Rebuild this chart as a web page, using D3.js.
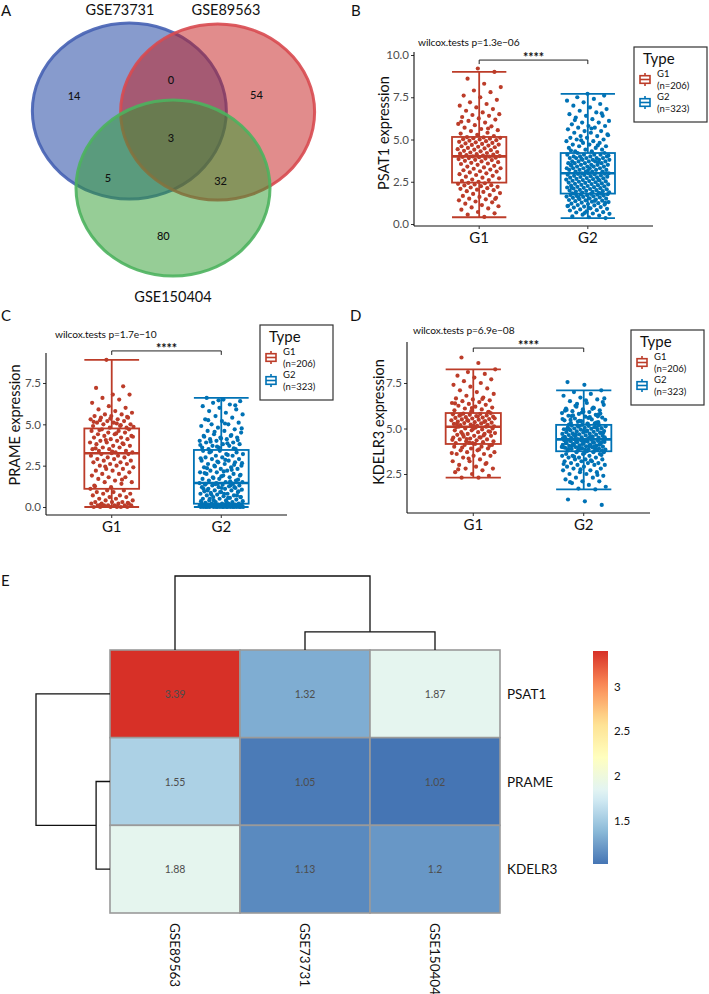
<!DOCTYPE html>
<html><head><meta charset="utf-8">
<script src="https://cdn.jsdelivr.net/npm/d3@7"></script>
<style>
body{margin:0;background:#fff}
svg{display:block}
text{font-family:Lato,"Open Sans",sans-serif}
</style>
</head><body>
<svg id="fig" width="709" height="994"></svg>
<script>
// ================= DATA =================
// Venn (A)
const vennSets = ["GSE73731", "GSE89563", "GSE150404"];
const vennRegions = ["A", "B", "C", "AB", "AC", "BC", "ABC"];
const vennCounts = [14, 54, 80, 0, 5, 32, 3];

// Boxplots (B, C, D)
const groups = ["G1", "G2"];
const groupN = [206, 323];
const pValues = ["1.3e\u221206", "1.7e\u221210", "6.9e\u221208"];
const genes = ["PSAT1", "PRAME", "KDELR3"];
// box stats: [lower whisker, Q1, median, Q3, upper whisker]
const psat1Stats = [[0.4, 2.45, 4.0, 5.15, 9.0], [0.35, 1.8, 3.0, 4.2, 7.7]];
const prameStats = [[0.0, 1.1, 3.25, 4.75, 8.9], [0.0, 0.2, 1.45, 3.45, 6.6]];
const kdelr3Stats = [[2.3, 4.15, 5.1, 5.85, 8.25], [1.65, 3.75, 4.4, 5.2, 7.1]];
const psat1Ticks = [0, 2.5, 5, 7.5, 10];
const prameTicks = [0, 2.5, 5, 7.5];
const kdelr3Ticks = [2.5, 5, 7.5];

// jittered sample values
const psat1G1 = [0.42,0.55,0.63,0.71,0.85,0.92,0.98,1.05,1.12,1.2,1.28,1.33,1.4,1.46,1.5,1.55,1.6,1.66,1.71,1.78,1.83,1.9,1.94,2.0,2.03,2.08,2.12,2.16,2.2,2.24,2.28,2.3,2.34,2.38,2.41,2.43,1.48,
2.5,2.55,2.6,2.63,2.7,2.74,2.8,2.85,2.9,2.95,3.0,3.05,3.1,3.12,3.18,3.22,3.27,3.3,3.35,3.4,3.44,3.5,3.55,3.58,3.62,3.66,3.7,3.74,3.78,3.8,3.84,3.87,3.9,3.92,3.95,3.97,3.99,4.0,
4.02,4.05,4.08,4.1,4.13,4.16,4.2,4.23,4.26,4.3,4.33,4.37,4.4,4.43,4.47,4.5,4.54,4.57,4.6,4.64,4.68,4.7,4.74,4.77,4.8,4.83,4.86,4.9,4.93,4.96,5.0,5.02,5.05,5.08,5.1,5.12,5.14,
5.2,5.28,5.35,5.4,5.5,5.55,5.62,5.7,5.78,5.85,5.92,6.0,6.1,6.18,6.25,6.33,6.4,6.45,6.5,6.6,6.7,6.8,6.9,7.0,7.1,7.2,7.35,7.5,7.6,7.8,7.9,8.1,8.3,8.6,9.0,9.2,6.05,5.65];
const psat1G2 = [0.35,0.4,0.45,0.5,0.55,0.6,0.62,0.68,0.7,0.75,0.8,0.82,0.86,0.9,0.93,0.97,1.0,1.03,1.06,1.1,1.12,1.15,1.18,1.2,1.23,1.26,1.3,1.32,1.35,1.38,1.4,1.42,1.45,1.47,1.5,1.52,1.55,1.57,1.6,1.62,1.64,1.66,1.68,1.7,1.71,1.73,1.75,1.76,1.78,1.79,1.8,0.65,1.08,1.37,1.58,1.25,0.95,
1.82,1.84,1.86,1.88,1.9,1.92,1.94,1.96,1.98,2.0,2.02,2.05,2.07,2.1,2.12,2.14,2.16,2.18,2.2,2.23,2.25,2.27,2.3,2.32,2.34,2.36,2.38,2.4,2.43,2.45,2.47,2.5,2.52,2.54,2.56,2.58,2.6,2.63,2.65,2.67,2.7,2.72,2.74,2.76,2.78,2.8,2.83,2.85,2.87,2.9,2.92,2.94,2.96,2.98,3.0,2.15,2.61,
3.0,3.0,3.1,3.1,3.1,3.1,3.2,3.2,3.2,3.2,3.3,3.3,3.3,3.3,3.3,3.4,3.4,3.4,3.4,3.5,3.5,3.5,3.5,3.5,3.6,3.6,3.6,3.6,3.7,3.7,3.7,3.7,3.7,3.8,3.8,3.8,3.8,3.9,3.9,3.9,3.9,3.9,4.0,4.0,4.0,4.0,4.1,4.1,4.1,4.1,4.2,4.2,3.15,3.45,3.65,3.85,4.05,
4.3,4.3,4.4,4.4,4.5,4.5,4.6,4.6,4.7,4.7,4.8,4.8,4.9,4.9,5.0,5.0,5.1,5.1,5.2,5.2,5.3,5.4,5.4,5.5,5.5,5.6,5.7,5.7,5.8,5.8,5.9,6.0,6.0,6.1,6.2,6.3,6.4,6.4,6.5,6.6,6.7,6.8,6.9,7.0,7.1,7.2,7.3,7.4,7.5,7.6,7.7,4.35,4.65,4.95,5.25,5.65,6.15,6.55];
const prameG1 = [0.0,0.0,0.0,0.0,0.0,0.0,0.1,0.1,0.1,0.1,0.1,0.1,0.2,0.2,0.2,0.2,0.3,0.3,0.3,0.4,0.4,0.5,0.5,0.6,0.6,0.7,0.7,0.8,0.8,0.9,0.9,1.0,1.0,1.1,0.05,0.15,0.25,
1.2,1.3,1.4,1.5,1.5,1.6,1.7,1.8,1.8,1.9,2.0,2.0,2.1,2.2,2.2,2.3,2.3,2.4,2.5,2.5,2.6,2.6,2.7,2.7,2.8,2.8,2.9,2.9,3.0,3.0,3.1,3.1,3.2,3.2,3.25,1.25,1.65,2.45,
3.3,3.3,3.4,3.4,3.5,3.5,3.6,3.6,3.7,3.7,3.8,3.8,3.9,3.9,4.0,4.0,4.1,4.1,4.2,4.2,4.3,4.3,4.4,4.4,4.5,4.5,4.6,4.6,4.7,4.7,3.35,3.55,3.85,4.05,4.25,4.45,4.65,
4.8,4.8,4.9,4.9,5.0,5.0,5.1,5.1,5.2,5.2,5.3,5.3,5.4,5.4,5.5,5.5,5.6,5.6,5.7,5.8,5.9,6.0,6.1,6.3,6.5,6.6,6.8,6.8,7.2,7.3,8.9,4.85,5.05,5.25,5.45,5.35,5.15,4.95];
const prameG2 = [0.0,0.0,0.0,0.0,0.0,0.0,0.0,0.0,0.0,0.0,0.0,0.0,0.0,0.0,0.0,0.0,0.0,0.0,0.0,0.0,0.05,0.05,0.05,0.05,0.05,0.05,0.05,0.05,0.05,0.05,0.1,0.1,0.1,0.1,0.1,0.1,0.1,0.1,0.1,0.1,0.1,0.1,0.1,0.1,0.1,0.15,0.15,0.15,0.15,0.15,0.15,0.15,0.2,0.2,0.2,0.2,0.2,
0.25,0.3,0.3,0.35,0.4,0.4,0.45,0.5,0.5,0.55,0.6,0.6,0.65,0.7,0.7,0.75,0.8,0.8,0.85,0.9,0.9,0.95,1.0,1.0,1.05,1.1,1.1,1.15,1.2,1.2,1.25,1.3,1.3,1.35,1.4,1.4,1.45,1.45,0.3,0.5,0.7,0.9,1.1,1.3,0.4,0.6,0.8,1.0,1.2,1.4,0.35,0.55,0.75,0.95,1.15,1.35,1.42,1.38,
1.5,1.5,1.6,1.6,1.7,1.7,1.8,1.8,1.9,1.9,2.0,2.0,2.1,2.1,2.2,2.2,2.3,2.3,2.4,2.4,2.5,2.5,2.6,2.6,2.7,2.7,2.8,2.8,2.9,2.9,3.0,3.0,3.1,3.1,3.2,3.2,3.3,3.3,3.4,3.4,1.55,1.75,1.95,2.15,2.35,2.55,2.75,2.95,3.15,3.35,1.65,1.85,2.05,2.25,2.45,2.65,2.85,
3.5,3.5,3.6,3.6,3.7,3.7,3.8,3.8,3.9,3.9,4.0,4.0,4.1,4.1,4.2,4.2,4.3,4.3,4.4,4.5,4.6,4.6,4.7,4.8,4.9,5.0,5.0,5.1,5.2,5.3,5.4,5.5,5.6,5.7,5.8,5.9,6.0,6.1,6.2,6.3,6.4,6.5,6.6,3.55,3.65,3.75,3.85,3.95,4.05,4.15,4.25,4.35,4.55,4.75,5.05,5.25,6.15,6.45];
const kdelr3G1 = [2.3,2.3,2.4,2.5,2.6,2.7,2.8,2.8,2.9,3.0,3.1,3.2,3.2,3.3,3.4,3.5,3.5,3.6,3.6,3.7,3.7,3.8,3.8,3.9,3.9,4.0,4.0,4.1,4.1,4.15,2.75,3.05,3.35,3.65,3.85,3.95,4.05,
4.2,4.2,4.25,4.3,4.3,4.35,4.4,4.4,4.45,4.5,4.5,4.55,4.6,4.6,4.65,4.7,4.7,4.75,4.8,4.8,4.85,4.9,4.9,4.95,5.0,5.0,5.05,5.1,5.1,4.22,4.38,4.52,4.68,4.82,4.98,5.08,4.62,4.42,
5.12,5.15,5.18,5.2,5.22,5.25,5.28,5.3,5.32,5.35,5.38,5.4,5.42,5.45,5.48,5.5,5.52,5.55,5.58,5.6,5.62,5.65,5.68,5.7,5.72,5.75,5.78,5.8,5.82,5.85,5.14,5.26,5.36,5.46,5.56,5.66,5.76,
5.9,5.95,6.0,6.05,6.1,6.15,6.2,6.25,6.3,6.35,6.4,6.45,6.5,6.55,6.6,6.65,6.7,6.8,6.9,7.0,7.1,7.2,7.3,7.4,7.5,7.6,7.7,7.8,7.9,8.0,8.1,8.25,8.6,8.9,5.92,6.12,6.38,6.62];
const kdelr3G2 = [0.8,1.0,1.1,1.65,1.7,1.8,1.9,2.0,2.1,2.1,2.2,2.3,2.3,2.4,2.5,2.5,2.6,2.6,2.7,2.7,2.8,2.8,2.9,2.9,3.0,3.0,3.0,3.1,3.1,3.1,3.2,3.2,3.2,3.3,3.3,3.3,3.4,3.4,3.4,3.5,3.5,3.5,3.6,3.6,3.6,3.7,3.7,3.7,3.75,2.05,2.45,2.75,3.05,3.25,3.45,3.55,3.65,
3.78,3.8,3.82,3.84,3.86,3.88,3.9,3.92,3.94,3.96,3.98,4.0,4.02,4.04,4.06,4.08,4.1,4.12,4.14,4.16,4.18,4.2,4.22,4.24,4.26,4.28,4.3,4.32,4.34,4.36,4.38,4.4,3.79,3.83,3.87,3.91,3.95,3.99,4.03,4.07,4.11,4.15,4.19,4.23,4.27,4.31,4.35,4.39,3.81,3.89,3.97,4.05,4.13,4.21,4.29,4.37,4.01,
4.42,4.44,4.46,4.48,4.5,4.52,4.54,4.56,4.58,4.6,4.62,4.64,4.66,4.68,4.7,4.72,4.74,4.76,4.78,4.8,4.82,4.84,4.86,4.88,4.9,4.92,4.94,4.96,4.98,5.0,5.02,5.04,5.06,5.08,5.1,5.12,5.14,5.16,5.18,5.2,4.45,4.55,4.65,4.75,4.85,4.95,5.05,5.15,4.47,4.57,4.67,4.77,4.87,4.97,5.07,5.17,4.51,
5.25,5.3,5.35,5.4,5.45,5.5,5.55,5.6,5.65,5.7,5.75,5.8,5.85,5.9,5.95,6.0,6.05,6.1,6.15,6.2,6.3,6.4,6.5,6.6,6.7,6.8,6.9,7.0,7.1,7.4,7.55,5.28,5.38,5.48,5.58,5.68,5.78,5.88,5.98,6.08,6.25,6.45,6.55,5.22,5.32,5.42,5.52,5.62,5.72,5.82,5.92,6.02,6.12,6.35,6.65,5.27,5.47,5.67];

// Heatmap (E)
const hmCols = ["GSE89563", "GSE73731", "GSE150404"];
const hmRows = ["PSAT1", "PRAME", "KDELR3"];
const hmValues = [[3.39, 1.32, 1.87], [1.55, 1.05, 1.02], [1.88, 1.13, 1.2]];
const colTreeHeights = [0.556, 2.258];   // (GSE73731,GSE150404), then +GSE89563
const rowTreeHeights = [0.384, 2.045];   // (PRAME,KDELR3), then +PSAT1
const hmLegendTicks = [1.5, 2, 2.5, 3];

// ================= STYLE / LAYOUT =================
const groupColors = ["#BC3C29", "#0072B5"];
const svg = d3.select("#fig");

function panelLetter(t, x, y) {
  svg.append("text").attr("x", x).attr("y", y).attr("font-size", 15).attr("fill", "#111").text(t);
}
panelLetter("A", 1, 16); panelLetter("B", 351, 16); panelLetter("C", 1, 321);
panelLetter("D", 350, 321); panelLetter("E", 1, 586);

// ---------- A: Venn ----------
(function () {
  const sx = d3.scaleLinear().domain([-1, 1]).range([76, 270]);
  const sy = d3.scaleLinear().domain([-1, 1]).range([49, 225]);
  const circles = [
    {cx: -0.45, cy: -0.295, fill: "#0f379b", stroke: "#4662b4"},
    {cx: 0.46, cy: -0.284, fill: "#c31919", stroke: "#d84a50"},
    {cx: 0.0, cy: 0.58, fill: "#2d9b2d", stroke: "#4db35e"}
  ];
  const g = svg.append("g");
  circles.forEach(c => {
    g.append("ellipse")
      .attr("cx", sx(c.cx)).attr("cy", sy(c.cy))
      .attr("rx", sx(1) - sx(0)).attr("ry", sy(1) - sy(0))
      .attr("fill", c.fill).attr("fill-opacity", 0.5)
      .attr("stroke", c.stroke).attr("stroke-width", 3).attr("stroke-opacity", 0.9);
  });
  const regionPos = {A: [-1.02, -0.47], B: [0.86, -0.48], C: [-0.1, 1.12], AB: [-0.02, -0.65],
                     AC: [-0.67, 0.455], BC: [0.49, 0.49], ABC: [-0.02, 0.0]};
  vennRegions.forEach((r, i) => {
    g.append("text").attr("x", sx(regionPos[r][0])).attr("y", sy(regionPos[r][1]))
      .attr("text-anchor", "middle").attr("dominant-baseline", "central")
      .attr("font-size", 11).attr("font-weight", 500).attr("fill", "#111").text(vennCounts[i]);
  });
  const setPos = [[120, 15], [226, 15], [173, 302]];
  vennSets.forEach((s, i) => {
    g.append("text").attr("x", setPos[i][0]).attr("y", setPos[i][1]).attr("text-anchor", "middle")
      .attr("font-size", 14.5).attr("fill", "#111").text(s);
  });
})();

// ---------- B, C, D: boxplots ----------
const boxPanels = [
  {gene: genes[0], p: pValues[0], data: [psat1G1, psat1G2], stats: psat1Stats, ticks: psat1Ticks,
   x0: 414, x1: 653, yTop: 52, yBot: 226, yDom: [0, 10], yRng: [224, 55], bracket: 9.7,
   titleX: 418, titleY: 46, ylabX: 383, ylabY: 133, xlabY: 243, legX: 634, legY: 47},
  {gene: genes[1], p: pValues[1], data: [prameG1, prameG2], stats: prameStats, ticks: prameTicks,
   x0: 46, x1: 287, yTop: 353, yBot: 515, yDom: [0, 7.5], yRng: [507, 383], bracket: 9.44,
   titleX: 55, titleY: 338, ylabX: 14, ylabY: 425, xlabY: 532, legX: 260, legY: 325},
  {gene: genes[2], p: pValues[2], data: [kdelr3G1, kdelr3G2], stats: kdelr3Stats, ticks: kdelr3Ticks,
   x0: 407, x1: 650, yTop: 342, yBot: 513, yDom: [2.5, 7.5], yRng: [474, 383], bracket: 9.42,
   titleX: 413, titleY: 334, ylabX: 378, ylabY: 422, xlabY: 530, legX: 631, legY: 330}
];

boxPanels.forEach(P => {
  const g = svg.append("g");
  const x = d3.scaleLinear().domain([0.4, 2.6]).range([P.x0, P.x1]);
  const y = d3.scaleLinear().domain(P.yDom).range(P.yRng);
  const bw = x(1.25) - x(1);   // half box width (0.25 units)

  // boxes
  P.stats.forEach((s, gi) => {
    const cx = x(gi + 1), col = groupColors[gi];
    const bg = g.append("g").attr("stroke", col).attr("fill", "none");
    bg.append("line").attr("x1", cx).attr("x2", cx).attr("y1", y(s[0])).attr("y2", y(s[4])).attr("stroke-width", 1.8);
    [s[0], s[4]].forEach(v => bg.append("line").attr("x1", cx - bw).attr("x2", cx + bw)
      .attr("y1", y(v)).attr("y2", y(v)).attr("stroke-width", 1.8));
    bg.append("rect").attr("x", cx - bw).attr("width", 2 * bw).attr("y", y(s[3]))
      .attr("height", y(s[1]) - y(s[3])).attr("fill", "#fff").attr("stroke-width", 1.8);
    bg.append("line").attr("x1", cx - bw).attr("x2", cx + bw).attr("y1", y(s[2])).attr("y2", y(s[2])).attr("stroke-width", 2.6);
  });
  // jittered points
  P.data.forEach((arr, gi) => {
    g.append("g").selectAll("circle").data(arr).join("circle")
      .attr("cx", (d, i) => x(gi + 1 + ((((i + 1) * 0.6180339887 + gi * 0.29) % 1) - 0.5) * 0.4))
      .attr("cy", d => y(d)).attr("r", 2.1).attr("fill", groupColors[gi]);
  });

  // axes
  const yAxis = d3.axisLeft(y).tickValues(P.ticks).tickFormat(d3.format(".1f")).tickSize(3).tickPadding(2);
  const ya = g.append("g").attr("transform", `translate(${P.x0},0)`).call(yAxis);
  ya.select(".domain").remove();
  ya.selectAll("text").attr("font-size", 11.5).attr("fill", "#4d4d4d").attr("font-family", "Lato,'Open Sans',sans-serif");
  ya.selectAll("line").attr("stroke", "#333");
  g.append("line").attr("x1", P.x0).attr("x2", P.x0).attr("y1", P.yTop).attr("y2", P.yBot).attr("stroke", "#111").attr("stroke-width", 1.1);
  g.append("line").attr("x1", P.x0).attr("x2", P.x1).attr("y1", P.yBot).attr("y2", P.yBot).attr("stroke", "#111").attr("stroke-width", 1.1);
  groups.forEach((gr, gi) => {
    g.append("line").attr("x1", x(gi + 1)).attr("x2", x(gi + 1)).attr("y1", P.yBot).attr("y2", P.yBot + 3).attr("stroke", "#333");
    g.append("text").attr("x", x(gi + 1)).attr("y", P.xlabY).attr("text-anchor", "middle")
      .attr("font-size", 15).attr("fill", "#111").text(gr);
  });
  g.append("text").attr("transform", `translate(${P.ylabX},${P.ylabY}) rotate(-90)`)
    .attr("text-anchor", "middle").attr("dominant-baseline", "central")
    .attr("font-size", 14.5).attr("fill", "#111").text(P.gene + " expression");
  g.append("text").attr("x", P.titleX).attr("y", P.titleY).attr("font-size", 10.2)
    .attr("letter-spacing", -0.1).attr("fill", "#111")
    .text("wilcox.tests p=" + P.p);

  // significance bracket
  const by = y(P.bracket);
  g.append("path").attr("d", `M${x(1)},${by + 4}V${by}H${x(2)}V${by + 4}`)
    .attr("fill", "none").attr("stroke", "#222").attr("stroke-width", 1);
  g.append("text").attr("x", (x(1) + x(2)) / 2).attr("y", by + 2).attr("text-anchor", "middle")
    .attr("font-size", 12.5).attr("font-weight", 700).attr("fill", "#111").text("****");

  // legend
  const L = g.append("g").attr("transform", `translate(${P.legX},${P.legY})`);
  L.append("rect").attr("width", 73).attr("height", 75).attr("fill", "#fff").attr("stroke", "#333").attr("stroke-width", 1.2);
  L.append("text").attr("x", 9).attr("y", 17).attr("font-size", 15).attr("fill", "#111").text("Type");
  groups.forEach((gr, gi) => {
    const cy = 32.5 + gi * 23, col = groupColors[gi], kx = 11;
    const k = L.append("g").attr("stroke", col).attr("fill", "#fff").attr("stroke-width", 1.6);
    k.append("line").attr("x1", kx).attr("x2", kx).attr("y1", cy - 6.5).attr("y2", cy + 6.5);
    k.append("rect").attr("x", kx - 5).attr("y", cy - 3.8).attr("width", 10).attr("height", 7.6);
    k.append("line").attr("x1", kx - 5).attr("x2", kx + 5).attr("y1", cy).attr("y2", cy);
    L.append("text").attr("x", 23).attr("y", cy - 2.5).attr("font-size", 9.5).attr("fill", "#111").text(gr);
    L.append("text").attr("x", 23).attr("y", cy + 9).attr("font-size", 9.5).attr("fill", "#111").text("(n=" + groupN[gi] + ")");
  });
});

// ---------- E: heatmap ----------
(function () {
  const g = svg.append("g");
  const x = d3.scaleBand().domain(hmCols).range([110, 500]);
  const y = d3.scaleBand().domain(hmRows).range([650, 913]);
  const all = hmValues.flat();
  const vmin = d3.min(all), vmax = d3.max(all);
  const pal = ["#4575B4", "#91BFDB", "#E0F3F8", "#FFFFBF", "#FEE090", "#FC8D59", "#D73027"];
  const color = d3.scaleLinear().domain(d3.range(pal.length).map(i => vmin + i * (vmax - vmin) / (pal.length - 1)))
    .range(pal).interpolate(d3.interpolateRgb);

  hmRows.forEach((r, ri) => hmCols.forEach((c, ci) => {
    const v = hmValues[ri][ci];
    g.append("rect").attr("x", x(c)).attr("y", y(r)).attr("width", x.bandwidth()).attr("height", y.bandwidth())
      .attr("fill", color(v)).attr("stroke", "#9a9a9a").attr("stroke-width", 1.6);
    g.append("text").attr("x", x(c) + x.bandwidth() / 2).attr("y", y(r) + y.bandwidth() / 2)
      .attr("text-anchor", "middle").attr("dominant-baseline", "central")
      .attr("font-size", 10.5).attr("fill", "#4d4d4d").text(v);
  }));
  hmRows.forEach(r => g.append("text").attr("x", 507).attr("y", y(r) + y.bandwidth() / 2)
    .attr("dominant-baseline", "central").attr("font-size", 13.5).attr("fill", "#111").text(r));
  hmCols.forEach(c => g.append("text")
    .attr("transform", `translate(${x(c) + x.bandwidth() / 2},923) rotate(90)`)
    .attr("dominant-baseline", "central").attr("font-size", 13.5).attr("fill", "#111").text(c));

  // dendrograms
  const cm = c => x(c) + x.bandwidth() / 2, rm = r => y(r) + y.bandwidth() / 2;
  const hy = d3.scaleLinear().domain([0, colTreeHeights[1]]).range([650, 576]);
  const hx = d3.scaleLinear().domain([0, rowTreeHeights[1]]).range([110, 36]);
  const dl = g.append("g").attr("fill", "none").attr("stroke", "#111").attr("stroke-width", 1.3);
  const c1 = cm(hmCols[1]), c2 = cm(hmCols[2]), c0 = cm(hmCols[0]);
  dl.append("path").attr("d", `M${c1},650V${hy(colTreeHeights[0])}H${c2}V650`);
  dl.append("path").attr("d", `M${c0},650V${hy(colTreeHeights[1])}H${(c1 + c2) / 2}V${hy(colTreeHeights[0])}`);
  const r1 = rm(hmRows[1]), r2 = rm(hmRows[2]), r0 = rm(hmRows[0]);
  dl.append("path").attr("d", `M110,${r1}H${hx(rowTreeHeights[0])}V${r2}H110`);
  dl.append("path").attr("d", `M110,${r0}H${hx(rowTreeHeights[1])}V${(r1 + r2) / 2}H${hx(rowTreeHeights[0])}`);

  // color legend
  const ly = d3.scaleLinear().domain([vmin, vmax]).range([864, 651]);
  const grad = svg.append("defs").append("linearGradient").attr("id", "hmgrad")
    .attr("x1", 0).attr("y1", 1).attr("x2", 0).attr("y2", 0);
  d3.range(0, 1.0001, 0.05).forEach(t => grad.append("stop").attr("offset", t)
    .attr("stop-color", color(vmin + t * (vmax - vmin))));
  g.append("rect").attr("x", 593).attr("y", 651).attr("width", 15).attr("height", 213).attr("fill", "url(#hmgrad)");
  hmLegendTicks.forEach(t => g.append("text").attr("x", 614).attr("y", ly(t))
    .attr("dominant-baseline", "central").attr("font-size", 11.5).attr("fill", "#111").text(t));
})();
</script>
</body></html>
